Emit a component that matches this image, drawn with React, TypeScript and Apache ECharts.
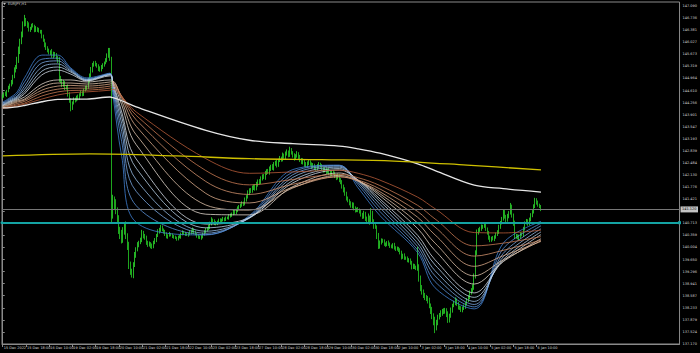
import React, { useEffect, useRef } from 'react';
import * as echarts from 'echarts';

const symbolTitle = 'EURJPY,H1';
const firstOpen = 144.4;
const closes = [
  144.45,144.52,144.48,144.60,144.70,144.77,144.85,145.02,145.21,145.30,
  145.50,145.78,146.05,146.24,146.55,146.68,146.60,146.53,146.40,146.44,
  146.52,146.50,146.38,146.44,146.40,146.35,146.33,146.20,146.09,145.95,
  145.86,145.78,145.71,145.75,145.62,145.70,145.65,145.58,145.50,144.98,
  144.90,144.77,144.85,144.70,144.71,144.50,144.33,144.10,144.25,144.35,
  144.33,144.42,144.38,144.48,144.55,144.50,144.62,144.68,144.71,144.90,
  145.05,145.21,145.35,145.42,145.38,145.33,145.25,145.21,145.30,145.36,
  145.42,145.50,145.62,145.74,145.55,141.00,141.40,141.30,141.10,140.85,
  140.52,140.40,140.22,140.50,140.66,140.35,140.08,139.49,139.30,139.20,
  139.50,139.78,139.95,140.08,140.15,140.22,140.43,140.35,140.28,140.15,
  140.08,140.12,140.05,140.02,140.15,140.22,140.35,140.46,140.52,140.60,
  140.52,140.46,140.40,140.31,140.35,140.40,140.37,140.33,140.30,140.28,
  140.25,140.30,140.31,140.40,140.46,140.42,140.38,140.37,140.40,140.43,
  140.48,140.52,140.45,140.40,140.34,140.30,140.28,140.31,140.40,140.46,
  140.52,140.55,140.60,140.70,140.81,140.78,140.72,140.70,140.75,140.80,
  140.78,140.81,140.85,140.82,140.86,140.87,140.92,140.95,140.99,141.05,
  141.02,141.10,141.15,141.20,141.25,141.30,141.28,141.40,141.48,141.60,
  141.69,141.65,141.75,141.80,141.72,141.85,141.95,141.90,142.02,142.10,
  142.05,142.18,142.25,142.20,142.30,142.38,142.32,142.45,142.50,142.42,
  142.55,142.62,142.58,142.70,142.65,142.75,142.80,142.72,142.86,142.78,
  142.70,142.62,142.68,142.75,142.66,142.58,142.50,142.55,142.45,142.40,
  142.48,142.52,142.45,142.38,142.42,142.35,142.30,142.38,142.45,142.40,
  142.32,142.25,142.30,142.22,142.28,142.20,142.15,142.22,142.18,142.10,
  142.05,142.12,142.00,141.92,141.80,141.70,141.58,141.45,141.38,141.30,
  141.22,141.28,141.15,141.08,141.12,141.10,141.05,140.98,140.90,141.00,
  140.85,140.80,140.90,140.75,141.02,140.78,140.62,140.60,140.35,140.02,
  140.15,140.22,140.18,140.10,140.08,140.15,140.10,140.05,140.02,140.08,
  140.00,139.95,139.98,139.93,139.85,139.72,139.78,139.70,139.68,139.62,
  139.64,139.55,139.43,139.48,139.42,139.40,139.45,139.10,138.84,138.70,
  138.62,138.55,138.50,138.46,138.30,138.17,138.00,137.87,137.67,137.80,
  137.96,138.02,138.08,138.15,138.12,138.17,138.05,137.87,138.00,138.17,
  138.30,138.38,138.46,138.35,138.26,138.22,138.17,138.22,138.26,138.35,
  138.46,138.55,138.67,138.75,138.84,139.14,139.84,140.43,140.50,140.55,
  140.60,140.62,140.66,140.55,140.43,140.30,140.22,140.28,140.25,140.31,
  140.38,140.46,140.60,140.72,140.85,141.05,140.90,140.81,140.92,141.02,
  141.20,140.95,140.72,140.31,140.35,140.28,140.32,140.40,140.37,140.55,
  140.72,140.78,140.70,140.81,140.95,141.05,141.20,141.40,141.32,141.25,
  141.20,141.12
];
const upperWicks = [
  .05,.04,.06,.03,.05,.04,.07,.05,.08,.06,.1,.12,.08,.1,.09,.15,.06,.05,.08,.04,
  .05,.07,.04,.06,.03,.05,.04,.06,.05,.04,.07,.05,.06,.04,.08,.05,.04,.06,.05,.1,
  .06,.05,.07,.04,.05,.08,.06,.05,.04,.06,.05,.04,.07,.05,.06,.04,.05,.07,.05,.08,
  .06,.09,.07,.05,.06,.04,.05,.07,.06,.05,.04,.06,.08,.12,.12,.05,.15,.1,.12,.08,
  .1,.09,.12,.1,.08,.11,.07,.09,.1,.08,.07,.09,.06,.08,.05,.07,.09,.06,.05,.07,
  .05,.06,.04,.07,.05,.06,.05,.08,.06,.07,.05,.04,.06,.05,.04,.06,.03,.05,.04,.05,
  .04,.05,.06,.04,.05,.03,.04,.05,.04,.06,.05,.07,.04,.05,.03,.04,.05,.06,.04,.05,
  .06,.05,.07,.06,.08,.04,.05,.06,.04,.05,.06,.04,.05,.03,.05,.04,.06,.05,.04,.06,
  .05,.04,.06,.05,.04,.06,.05,.07,.06,.08,.05,.06,.07,.05,.06,.08,.05,.06,.07,.05,
  .06,.07,.05,.06,.08,.05,.07,.06,.05,.08,.06,.07,.05,.09,.06,.07,.08,.05,.1,.06,
  .05,.07,.06,.08,.05,.06,.05,.07,.04,.06,.05,.07,.04,.05,.06,.04,.05,.07,.06,.04,
  .05,.04,.06,.05,.04,.06,.05,.04,.06,.05,.04,.06,.05,.04,.06,.05,.07,.06,.05,.04,
  .06,.05,.04,.06,.05,.07,.05,.06,.04,.08,.05,.06,.1,.04,.14,.06,.05,.07,.05,.08,
  .06,.05,.04,.06,.05,.04,.06,.05,.04,.05,.06,.04,.05,.04,.05,.06,.04,.05,.04,.06,
  .05,.04,.06,.05,.04,.05,.57,.06,.08,.06,.07,.05,.06,.08,.07,.06,.09,.07,.1,.08,
  .07,.06,.08,.05,.07,.06,.05,.08,.06,.07,.05,.06,.08,.05,.06,.04,.06,.05,.07,.05,
  .06,.05,.07,.06,.08,.1,.08,.1,.07,.06,.08,.05,.06,.05,.04,.06,.05,.04,.06,.05,
  .06,.05,.07,.06,.05,.08,.05,.06,.07,.05,.11,.06,.05,.07,.05,.04,.06,.05,.04,.06,
  .05,.06,.05,.07,.06,.05,.07,.06,.05,.06,.04,.05
];
const lowerWicks = [
  .04,.05,.03,.06,.04,.05,.04,.06,.05,.07,.06,.08,.1,.08,.07,.06,.1,.08,.06,.07,
  .05,.04,.06,.05,.07,.04,.05,.06,.05,.07,.06,.05,.04,.06,.05,.07,.05,.06,.08,.12,
  .07,.06,.05,.08,.06,.07,.08,.1,.06,.05,.07,.04,.06,.05,.04,.06,.05,.04,.06,.05,
  .06,.05,.07,.04,.06,.05,.07,.05,.04,.06,.05,.04,.06,.05,.07,.3,.15,.2,.12,.15,
  .12,.15,.1,.08,.12,.1,.15,.12,.1,.08,.1,.07,.08,.06,.07,.05,.06,.08,.05,.07,
  .06,.05,.07,.06,.04,.05,.06,.04,.05,.06,.04,.05,.06,.04,.05,.03,.04,.05,.04,.03,
  .05,.04,.03,.05,.04,.05,.04,.03,.05,.04,.05,.04,.06,.04,.05,.04,.03,.05,.04,.05,
  .04,.05,.04,.06,.05,.04,.06,.05,.04,.05,.04,.06,.04,.05,.04,.03,.05,.04,.05,.04,
  .05,.04,.06,.05,.04,.05,.06,.04,.05,.04,.06,.05,.04,.06,.05,.04,.06,.05,.04,.05,
  .04,.06,.05,.04,.06,.05,.04,.06,.05,.07,.05,.04,.06,.05,.04,.06,.05,.07,.06,.05,
  .06,.07,.05,.04,.06,.07,.05,.06,.08,.05,.04,.06,.05,.07,.05,.06,.05,.04,.06,.05,
  .06,.05,.04,.06,.05,.07,.06,.05,.04,.06,.07,.05,.08,.06,.07,.08,.06,.07,.05,.06,
  .05,.07,.06,.05,.04,.06,.05,.07,.06,.05,.07,.06,.05,.08,.05,.06,.07,.05,.1,.06,
  .05,.06,.04,.05,.06,.04,.05,.06,.04,.05,.06,.05,.04,.06,.05,.07,.05,.06,.04,.05,
  .06,.05,.07,.06,.05,.06,.08,.1,.12,.08,.1,.09,.07,.1,.08,.12,.1,.15,.18,.1,
  .08,.07,.06,.08,.07,.06,.09,.08,.07,.06,.08,.05,.07,.06,.08,.05,.06,.07,.05,.06,
  .05,.06,.07,.05,.06,.08,.05,.06,.05,.04,.06,.05,.04,.06,.05,.07,.06,.05,.04,.06,
  .05,.04,.06,.05,.04,.06,.05,.07,.05,.06,.05,.07,.08,.06,.05,.04,.06,.05,.04,.06,
  .05,.04,.06,.05,.04,.06,.05,.04,.06,.05,.04,.05
];

const timeLabels = [
  '15 Dec 2022','15 Dec 18:00','16 Dec 10:00','19 Dec 02:00','19 Dec 18:00','20 Dec 10:00',
  '21 Dec 02:00','21 Dec 18:00','22 Dec 10:00','23 Dec 02:00','23 Dec 18:00','27 Dec 10:00',
  '28 Dec 02:00','28 Dec 18:00','29 Dec 10:00','30 Dec 02:00','30 Dec 18:00','2 Jan 10:00',
  '3 Jan 02:00','3 Jan 18:00','4 Jan 10:00','5 Jan 02:00','5 Jan 18:00','6 Jan 10:00'
];
const barsPerLabel = 16;
const totalSlots = 467;
const yMin = 137.17;
const yMax = 147.208;
const yStep = 0.354286;
const bidPrice = 141.12;
const hLinePrice = 140.73;

// moving average ribbon, read at these bar positions
const maIdx = [0,5,10,15,27,38,47,58,74,76,82,92,140,170,200,232,245,260,286,298,325,345,371];
const ma1 = [144.27,144.40,144.57,144.98,145.65,145.65,145.27,144.98,145.12,144.46,142.68,140.74,140.37,140.94,142.29,142.42,141.75,140.94,139.85,138.82,138.20,140.13,140.77];
const ma2 = [144.24,144.37,144.51,144.86,145.53,145.56,145.24,144.95,145.11,144.60,143.11,141.23,140.38,140.91,142.22,142.41,141.84,141.06,139.93,139.00,138.26,139.97,140.71];
const ma3 = [144.21,144.34,144.45,144.74,145.42,145.48,145.21,144.93,145.09,144.69,143.41,141.65,140.42,140.88,142.14,142.39,141.90,141.17,140.03,139.17,138.33,139.83,140.64];
const ma4 = [144.20,144.31,144.42,144.65,145.30,145.39,145.18,144.92,145.08,144.76,143.64,141.99,140.48,140.87,142.06,142.36,141.94,141.27,140.13,139.32,138.42,139.73,140.55];
const ma5 = [144.18,144.29,144.39,144.57,145.18,145.30,145.15,144.90,145.07,144.81,143.84,142.33,140.58,140.86,141.97,142.32,141.97,141.36,140.25,139.49,138.54,139.65,140.46];
const ma6 = [144.17,144.27,144.36,144.51,145.07,145.21,145.09,144.89,145.04,144.85,143.98,142.60,140.69,140.88,141.90,142.28,141.98,141.43,140.36,139.64,138.67,139.60,140.38];
const ma7 = [144.16,144.24,144.33,144.42,144.80,144.92,144.92,144.86,144.92,144.88,144.19,143.02,140.98,140.96,141.79,142.19,141.97,141.52,140.56,139.91,138.93,139.59,140.26];
const ma8 = [144.14,144.21,144.30,144.36,144.71,144.83,144.83,144.80,144.86,144.88,144.31,143.31,141.25,141.10,141.75,142.12,141.96,141.58,140.72,140.13,139.17,139.64,140.20];
const ma9 = [144.13,144.19,144.27,144.33,144.62,144.74,144.76,144.74,144.80,144.85,144.40,143.56,141.59,141.31,141.77,142.08,141.95,141.64,140.89,140.37,139.45,139.76,140.18];
const ma10 = [144.11,144.16,144.23,144.29,144.54,144.65,144.68,144.68,144.74,144.80,144.44,143.75,141.94,141.56,141.86,142.08,141.98,141.72,141.06,140.60,139.75,139.92,140.22];
const ma11 = [144.10,144.14,144.19,144.24,144.45,144.57,144.61,144.62,144.68,144.74,144.45,143.88,142.26,141.84,142.00,142.15,142.05,141.82,141.24,140.84,140.05,140.13,140.32];
const ma12 = [144.08,144.11,144.16,144.21,144.36,144.48,144.54,144.57,144.62,144.65,144.42,143.98,142.61,142.18,142.22,142.27,142.18,141.98,141.48,141.14,140.44,140.43,140.51];
const whiteMA = [144.10,144.11,144.13,144.17,144.28,144.35,144.36,144.36,144.42,144.40,144.31,144.13,143.44,143.15,143.05,142.98,142.90,142.77,142.46,142.26,141.83,141.73,141.63];
const yellowIdx = [0,60,120,170,220,270,320,371];
const yellowMA = [142.69,142.75,142.69,142.61,142.58,142.54,142.42,142.28];

const ribbon = [ma1, ma2, ma3, ma4, ma5, ma6, ma7, ma8, ma9, ma10, ma11, ma12];
const ribbonColors = ['#3f7fd0','#5a92d8','#78a6de','#97bce4','#b6cfe6','#d2dbe6','#e0d6cc','#dcc0a8','#d8a888','#d0906c','#c87852','#b85c38'];

const FONT = 'DejaVu Sans';
const TXT = '#d4d4d4';
const AXIS = '#8a8a8a';

export default function App() {
  const ref = useRef<HTMLDivElement>(null);
  useEffect(() => {
    if (!ref.current) return;
    const chart = echarts.init(ref.current, undefined, { renderer: 'svg' });
    const slots = Array.from({ length: totalSlots }, (_, i) => String(i));
    const candles = closes.map((c, i) => {
      const o = i === 0 ? firstOpen : closes[i - 1];
      return [o, c, Math.min(o, c) - lowerWicks[i], Math.max(o, c) + upperWicks[i]];
    });
    const showLabel = (i: number) => i % barsPerLabel === 0 && i / barsPerLabel < timeLabels.length;
    const maSeries: any[] = ribbon.map((arr, k) => ({
      type: 'line', xAxisIndex: 1, yAxisIndex: 0, smooth: 0.35, showSymbol: false, silent: true,
      data: maIdx.map((x, j) => [x, arr[j]]),
      lineStyle: { color: ribbonColors[k], width: 0.8 }, z: 3,
    }));
    const option: any = {
      animation: false,
      backgroundColor: '#000',
      grid: { left: 2, right: 17, top: 2, bottom: 9, show: true, borderColor: AXIS, borderWidth: 1, backgroundColor: '#000' },
      xAxis: [
        {
          type: 'category', data: slots, boundaryGap: true,
          axisLine: { show: true, lineStyle: { color: AXIS, width: 1 } },
          axisTick: { show: true, alignWithLabel: true, interval: (i: number) => showLabel(i), length: 3, lineStyle: { color: AXIS } },
          axisLabel: {
            show: true, interval: (i: number) => showLabel(i),
            formatter: (_v: string, i: number) => timeLabels[i / barsPerLabel] ?? '',
            color: TXT, fontSize: 3.5, fontFamily: FONT, align: 'left', margin: 2, padding: [0, 0, 0, 1],
          },
          splitLine: { show: false },
        },
        { type: 'value', min: -0.5, max: totalSlots - 0.5, show: false },
      ],
      yAxis: {
        type: 'value', position: 'right', min: yMin, max: yMax, interval: yStep, scale: true,
        axisLine: { show: true, lineStyle: { color: AXIS, width: 1 } },
        axisTick: { show: true, length: 2, lineStyle: { color: AXIS } },
        axisLabel: {
          color: TXT, fontSize: 3.5, fontFamily: FONT, margin: 3, showMaxLabel: false,
          formatter: (v: number) => (v > 147.1 || Math.abs(v - bidPrice) < 0.17 ? '' : v.toFixed(3)),
        },
        splitLine: { show: false },
      },
      graphic: [
        { type: 'polygon', shape: { points: [[3, 3], [6, 3], [4.5, 5]] }, style: { fill: '#bbbbbb' } },
        { type: 'text', left: 8, top: 2, style: { text: symbolTitle, fill: TXT, fontSize: 3.5, fontFamily: FONT } },
      ],
      series: [
        {
          type: 'candlestick', xAxisIndex: 0, yAxisIndex: 0, data: candles, barWidth: 1, z: 2,
          itemStyle: { color: '#1dd01d', color0: '#14a814', borderColor: '#2ee02e', borderColor0: '#26d026', borderWidth: 0.8 },
          markLine: {
            silent: true, symbol: 'none', animation: false,
            data: [{
              yAxis: bidPrice,
              lineStyle: { color: '#777777', width: 1, type: 'solid' },
              label: {
                show: true, position: 'end', distance: 1, formatter: bidPrice.toFixed(3),
                backgroundColor: '#c4c4c4', color: '#000', fontSize: 3.5, fontFamily: FONT, padding: [1, 1.5],
              },
            }],
          },
        },
        ...maSeries,
        {
          type: 'line', xAxisIndex: 1, yAxisIndex: 0, smooth: 0.35, showSymbol: false, silent: true,
          data: maIdx.map((x, j) => [x, whiteMA[j]]),
          lineStyle: { color: '#e6e6e6', width: 1.3 }, z: 4,
        },
        {
          type: 'line', xAxisIndex: 1, yAxisIndex: 0, smooth: 0.35, showSymbol: false, silent: true,
          data: yellowIdx.map((x, j) => [x, yellowMA[j]]),
          lineStyle: { color: '#cfc000', width: 1.3 }, z: 5,
          markLine: {
            silent: true, animation: false, symbol: ['circle', 'rect'], symbolSize: [3, 3],
            data: [{ yAxis: hLinePrice, lineStyle: { color: '#14a3a3', width: 2, type: 'solid' }, itemStyle: { color: '#14a3a3' }, label: { show: false } }],
          },
        },
      ],
    };
    chart.setOption(option);
    return () => chart.dispose();
  }, []);
  return <div ref={ref} style={{ position: 'fixed', left: 0, top: 0, width: 700, height: 353, background: '#000' }} />;
}
